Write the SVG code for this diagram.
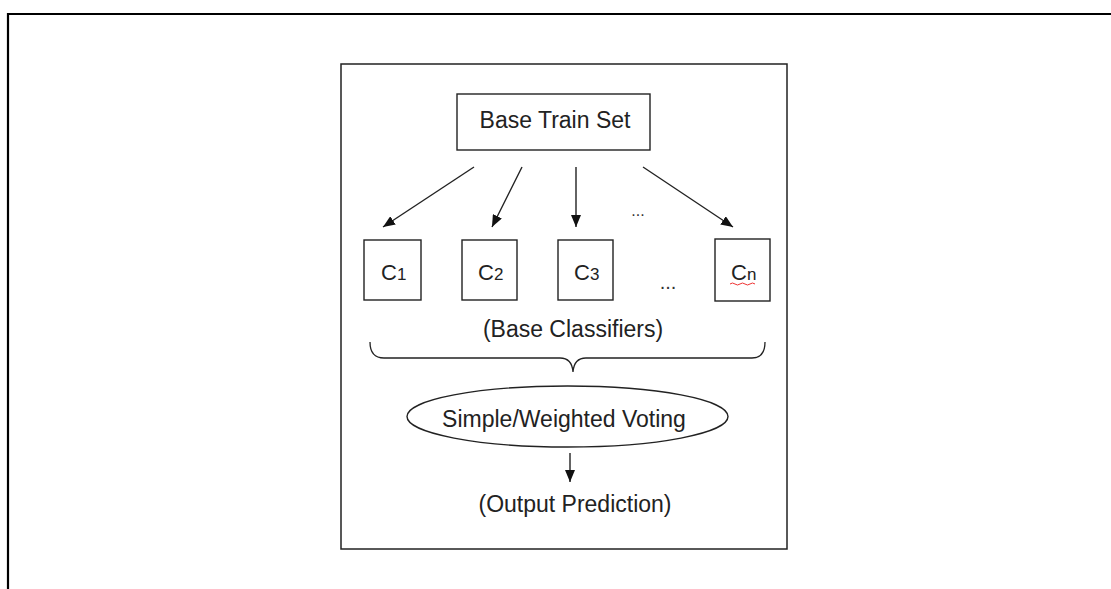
<svg xmlns="http://www.w3.org/2000/svg" width="1111" height="589" viewBox="0 0 1111 589">
  <style>
    .box { fill: #fff; stroke: #222; stroke-width: 1.4; }
    .lbl { font-family: "Liberation Sans", Arial, sans-serif; font-size: 23px; fill: #222; }
    .cls { font-family: "Liberation Sans", Arial, sans-serif; font-size: 22px; fill: #222; }
    .sub { font-size: 17px; }
    .edge { stroke: #222; stroke-width: 1.4; fill: none; marker-end: url(#head); }
    .dots { font-family: "Liberation Sans", Arial, sans-serif; fill: #333; }
  </style>
  <defs>
    <marker id="head" viewBox="0 0 12 10" refX="12" refY="5" markerWidth="12" markerHeight="10" markerUnits="userSpaceOnUse" orient="auto">
      <path d="M0,0 L12,5 L0,10 Z" fill="#111"/>
    </marker>
  </defs>
  <rect width="1111" height="589" fill="#fff"/>

  <!-- page frame -->
  <path d="M8,589 L8,14 L1111,14" fill="none" stroke="#000" stroke-width="2.2"/>

  <!-- figure frame -->
  <rect x="341" y="64" width="446" height="485" fill="#fff" stroke="#222" stroke-width="1.5"/>

  <g id="train-set">
    <rect class="box" x="457" y="94" width="193" height="56"/>
    <text class="lbl" x="555" y="128" text-anchor="middle">Base Train Set</text>
  </g>

  <g id="c1">
    <rect class="box" x="364" y="240" width="57" height="60"/>
    <text class="cls" x="381" y="280">C<tspan class="sub">1</tspan></text>
  </g>
  <g id="c2">
    <rect class="box" x="462" y="240" width="55" height="60"/>
    <text class="cls" x="478" y="280">C<tspan class="sub">2</tspan></text>
  </g>
  <g id="c3">
    <rect class="box" x="558" y="240" width="55" height="60"/>
    <text class="cls" x="574" y="280">C<tspan class="sub">3</tspan></text>
  </g>
  <g id="cn">
    <rect class="box" x="715" y="239" width="55" height="62"/>
    <text class="cls" x="731" y="280">C<tspan class="sub">n</tspan></text>
    <path d="M730,284 q2.5,-2 5,0 t5,0 t5,0 t5,0 t5,0" fill="none" stroke="#e33" stroke-width="1"/>
  </g>

  <text class="dots" x="638" y="216" font-size="16" text-anchor="middle">...</text>
  <text class="dots" x="668" y="289" font-size="20" text-anchor="middle">...</text>

  <g id="classifiers-label">
    <text class="lbl" x="573" y="337" text-anchor="middle">(Base Classifiers)</text>
    <path d="M370,342 Q370,358 384,358 L560,358 Q572,358 573,372 Q574,358 586,358 L752,358 Q765,358 765,342" fill="none" stroke="#222" stroke-width="1.3"/>
  </g>

  <g id="voting">
    <ellipse class="box" cx="567.5" cy="416.5" rx="160.5" ry="30.5"/>
    <text class="lbl" x="564" y="427" text-anchor="middle">Simple/Weighted Voting</text>
  </g>

  <g id="output">
    <text class="lbl" x="575" y="512" text-anchor="middle">(Output Prediction)</text>
  </g>

  <g id="connectors">
    <line class="edge" x1="474" y1="167" x2="383" y2="227"/>
    <line class="edge" x1="522" y1="167" x2="492" y2="227"/>
    <line class="edge" x1="576" y1="167" x2="576" y2="227"/>
    <line class="edge" x1="643" y1="167" x2="733" y2="227"/>
    <line class="edge" x1="570" y1="453" x2="570" y2="482"/>
  </g>
</svg>
